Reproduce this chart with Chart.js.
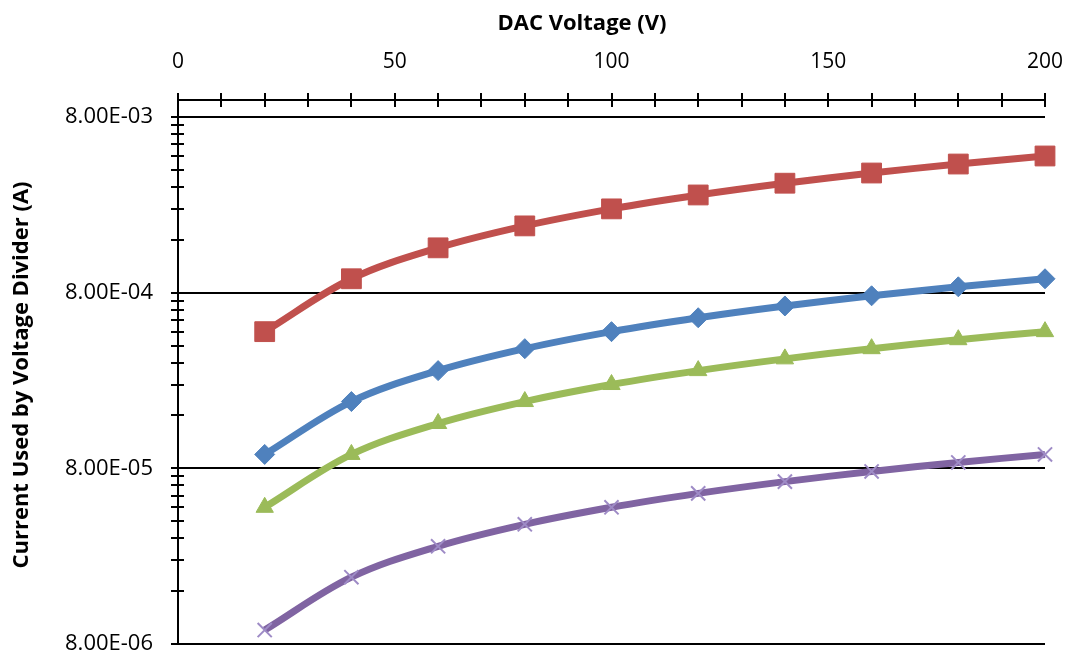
<!DOCTYPE html>
<html>
<head>
<meta charset="utf-8">
<script src="https://cdn.jsdelivr.net/npm/chart.js@4"></script>
<style>
  html, body { margin: 0; padding: 0; background: #ffffff; }
  #wrap { width: 1068px; height: 659px; position: relative; }
</style>
</head>
<body>
<div id="wrap"><canvas id="c" width="1068" height="659"></canvas></div>
<script>
// ---- data ----
const dacVoltage = [20, 40, 60, 80, 100, 120, 140, 160, 180, 200];
const seriesRed    = [4.8e-4, 9.6e-4, 1.44e-3, 1.92e-3, 2.4e-3, 2.88e-3, 3.36e-3, 3.84e-3, 4.32e-3, 4.8e-3];
const seriesBlue   = [9.6e-5, 1.92e-4, 2.88e-4, 3.84e-4, 4.8e-4, 5.76e-4, 6.72e-4, 7.68e-4, 8.64e-4, 9.6e-4];
const seriesGreen  = [4.8e-5, 9.6e-5, 1.44e-4, 1.92e-4, 2.4e-4, 2.88e-4, 3.36e-4, 3.84e-4, 4.32e-4, 4.8e-4];
const seriesPurple = [9.6e-6, 1.92e-5, 2.88e-5, 3.84e-5, 4.8e-5, 5.76e-5, 6.72e-5, 7.68e-5, 8.64e-5, 9.6e-5];
const yMajorTicks  = [8e-6, 8e-5, 8e-4, 8e-3];
const yMajorLabels = ['8.00E-06', '8.00E-05', '8.00E-04', '8.00E-03'];
const yMinorMultipliers = [2, 3, 4, 5, 6, 7, 8, 9];
const xLabelTicks  = [0, 50, 100, 150, 200];
const xTitle = 'DAC Voltage (V)';
const yTitle = 'Current Used by Voltage Divider (A)';

const toPts = (arr) => arr.map((v, i) => ({ x: dacVoltage[i], y: v }));
const isMajor = (v) => yMajorTicks.some(m => Math.abs(v - m) / m < 1e-6);
const majorLabel = (v) => {
  const i = yMajorTicks.findIndex(m => Math.abs(v - m) / m < 1e-6);
  return i >= 0 ? yMajorLabels[i] : '';
};

const FONT = '"Open Sans", "Liberation Sans", sans-serif';

const crossTicks = {
  id: 'crossTicks',
  beforeDatasetsDraw(chart) {
    const ctx = chart.ctx;
    const xs = chart.scales.x, ys = chart.scales.y;
    ctx.save();
    ctx.strokeStyle = '#000';
    ctx.lineWidth = 2;
    const ay = chart.chartArea.top;
    xs.ticks.forEach((t) => {
      const px = Math.round(xs.getPixelForValue(t.value));
      ctx.beginPath();
      ctx.moveTo(px, ay - 7);
      ctx.lineTo(px, ay + 7);
      ctx.stroke();
    });
    const ax = chart.chartArea.left;
    ys.ticks.forEach((t) => {
      const py = Math.round(ys.getPixelForValue(t.value));
      ctx.beginPath();
      ctx.moveTo(ax - 7, py);
      ctx.lineTo(ax + (isMajor(t.value) ? 0 : 6), py);
      ctx.stroke();
    });
    ctx.restore();
  },
  afterDraw(chart) {
    const ctx = chart.ctx;
    ctx.save();
    ctx.fillStyle = '#000';
    ctx.font = 'bold 22px ' + FONT;
    ctx.textAlign = 'center';
    ctx.textBaseline = 'middle';
    ctx.fillText(xTitle, 582, 24);
    ctx.translate(22, 375);
    ctx.rotate(-Math.PI / 2);
    ctx.fillText(yTitle, 0, 0);
    ctx.restore();
  }
};

const mkDs = (label, data, color, style, radius, extra) => Object.assign({
  label, data: toPts(data),
  borderColor: color, backgroundColor: color,
  pointBackgroundColor: color, pointBorderColor: color,
  borderWidth: 7, pointStyle: style, pointRadius: radius, pointHoverRadius: radius,
  pointBorderWidth: 1, tension: 0.35, clip: false, fill: false
}, extra || {});

new Chart(document.getElementById('c'), {
  type: 'line',
  data: {
    datasets: [
      mkDs('Red', seriesRed, '#C0504D', 'rect', 14),
      mkDs('Blue', seriesBlue, '#4F81BD', 'rectRot', 10),
      mkDs('Green', seriesGreen, '#9BBB59', 'triangle', 10),
      mkDs('Purple', seriesPurple, '#8064A2', 'crossRot', 10,
        { pointBorderColor: '#9E8BC6', pointBackgroundColor: '#9E8BC6', pointBorderWidth: 2 })
    ]
  },
  options: {
    responsive: false,
    animation: false,
    devicePixelRatio: 1,
    layout: { padding: { left: 0, top: 0, right: 23, bottom: 12 } },
    plugins: { legend: { display: false }, tooltip: { enabled: false } },
    scales: {
      x: {
        type: 'linear', position: 'top', min: 0, max: 200,
        afterFit: (s) => { s.height = 100; s.paddingLeft = 0; s.paddingRight = 0; },
        ticks: {
          stepSize: 10, autoSkip: false, maxRotation: 0, padding: 18,
          color: '#000', font: { family: FONT, size: 21 },
          callback: (v) => xLabelTicks.includes(v) ? String(v) : ''
        },
        grid: { drawOnChartArea: false, tickLength: 7, tickColor: 'transparent' },
        border: { display: true, color: '#000', width: 2 }
      },
      y: {
        type: 'logarithmic', min: 8e-6, max: 1e-2,
        afterFit: (s) => { s.width = 178; s.paddingTop = 0; s.paddingBottom = 0; },
        afterBuildTicks: (s) => {
          const t = [];
          yMajorTicks.forEach((m) => {
            t.push({ value: m });
            yMinorMultipliers.forEach((k) => { if (m * k <= 1e-2) t.push({ value: m * k }); });
          });
          t.sort((a, b) => a.value - b.value);
          s.ticks = t;
        },
        ticks: {
          autoSkip: false, padding: 18, color: '#000',
          font: { family: FONT, size: 22 },
          callback: (v) => majorLabel(v)
        },
        grid: {
          tickLength: 7, tickColor: 'transparent', lineWidth: 2,
          color: (c) => (c.tick && isMajor(c.tick.value)) ? '#000' : 'rgba(0,0,0,0)'
        },
        border: { display: true, color: '#000', width: 2 }
      }
    }
  },
  plugins: [crossTicks]
});
</script>
</body>
</html>
